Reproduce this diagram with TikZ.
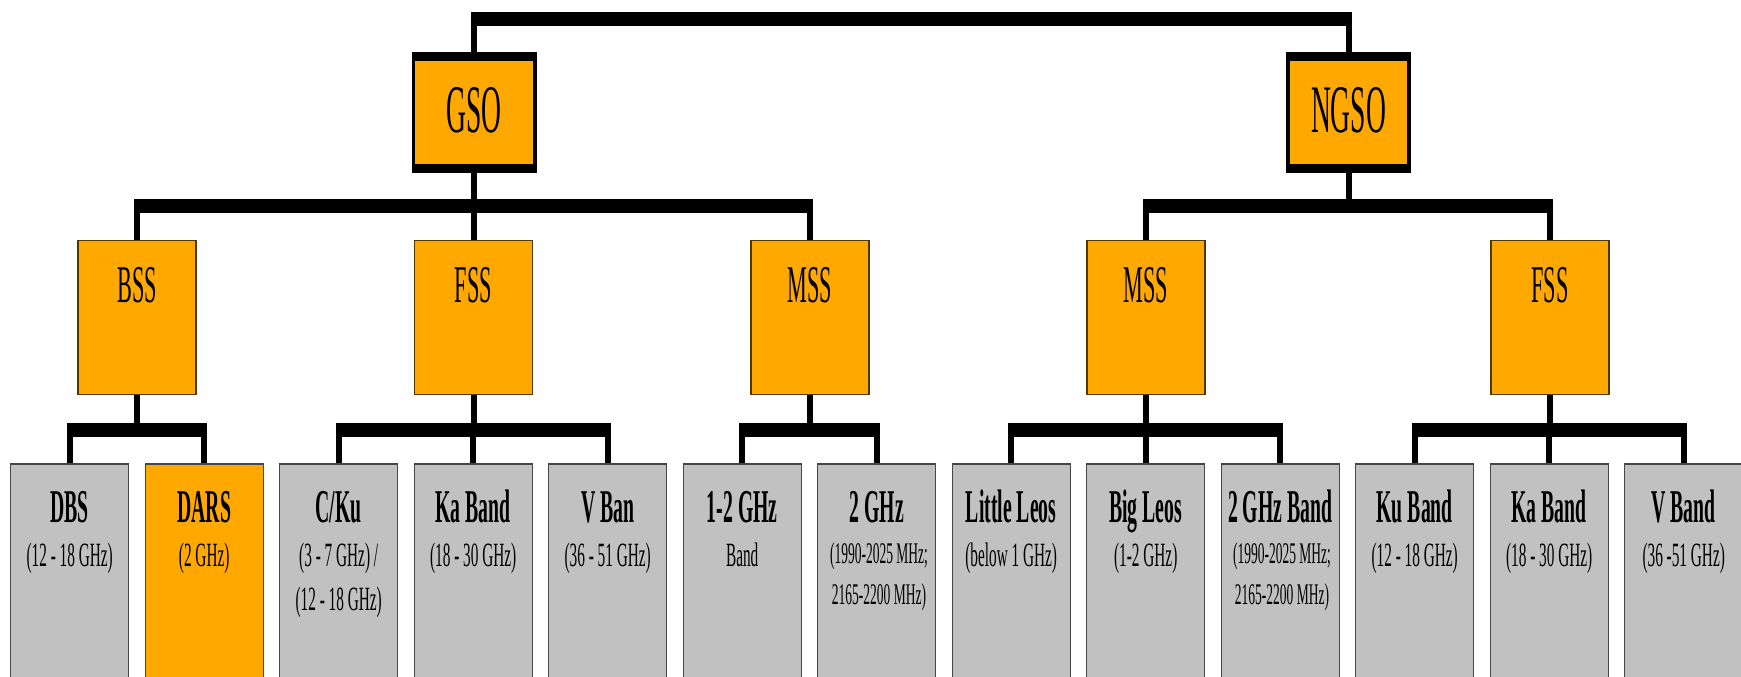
\documentclass[tikz,border=0pt]{standalone}
\usepackage{fontspec}
\setmainfont{Liberation Serif}[FakeStretch=0.42]
\newfontfamily\topfont{Liberation Serif}[FakeStretch=0.405]
\newfontfamily\subfont{Liberation Serif}[FakeStretch=0.45]
\definecolor{orng}{RGB}{255,168,0}
\definecolor{gry}{RGB}{192,193,192}
\definecolor{midedge}{RGB}{80,55,0}
\definecolor{botedge}{RGB}{70,70,70}
\begin{document}
\begin{tikzpicture}[x=1pt,y=-1pt,
  topbox/.style={rectangle, fill=black, inner sep=0pt, minimum width=125pt, minimum height=120.4pt,
    path picture={\fill[orng] ([xshift=3.6pt,yshift=8.8pt]path picture bounding box.south west) rectangle ([xshift=-3.6pt,yshift=-8.3pt]path picture bounding box.north east);}},
  toptext/.style={anchor=base, inner sep=0pt, font=\topfont\fontsize{68}{80}\selectfont},
  midbox/.style={rectangle, fill=orng, draw=midedge, line width=1.2pt, minimum width=118pt, minimum height=154.3pt, inner sep=0pt},
  midtext/.style={anchor=base, inner sep=0pt, font=\fontsize{53}{60}\selectfont},
  botbox/.style={rectangle, fill=gry, draw=botedge, line width=1.2pt, minimum width=118pt, minimum height=260pt, inner sep=0pt},
  bottitle/.style={anchor=base, inner sep=0pt, font=\bfseries\fontsize{47}{54}\selectfont},
  botsub/.style={anchor=base, inner sep=0pt, font=\subfont\fontsize{34}{40}\selectfont},
  botsmall/.style={anchor=base, inner sep=0pt, font=\subfont\fontsize{30}{36}\selectfont},
  wire/.style={line width=6pt, black},
  bus/.style={line width=14.5pt, black}]
\path[use as bounding box, clip] (0,0) rectangle (1741,677);
\fill[white] (0,0) rectangle (1741,677);

\coordinate (ty) at (0,19);
\coordinate (gy) at (0,205.8);
\coordinate (by) at (0,430);

% top level
\node[topbox] (GSO) at (474.2,112.5) {};
\node[toptext] (GSOt) at (474.2,132.5) {GSO};
\node[topbox] (NGSO) at (1348.5,112.5) {};
\node[toptext] (NGSOt) at (1348.5,132.5) {NGSO};

% middle level
\node[midbox] (bss) at (137,317.25) {};
\node[midtext] (bsst) at (137,302) {BSS};
\node[midbox] (gfss) at (473.5,317.25) {};
\node[midtext] (gfsst) at (473.5,302) {FSS};
\node[midbox] (gmss) at (810,317.25) {};
\node[midtext] (gmsst) at (810,302) {MSS};
\node[midbox] (nmss) at (1146,317.25) {};
\node[midtext] (nmsst) at (1146,302) {MSS};
\node[midbox] (nfss) at (1550,317.25) {};
\node[midtext] (nfsst) at (1550,302) {FSS};

% bottom level
\node[botbox] (dbs) at (69.7,593.9) {};
\node[botbox, fill=orng] (dars) at (204.2,593.9) {};
\node[botbox] (cku) at (338.7,593.9) {};
\node[botbox] (gka) at (473.2,593.9) {};
\node[botbox] (gv) at (607.7,593.9) {};
\node[botbox] (m12) at (742.2,593.9) {};
\node[botbox] (m2) at (876.7,593.9) {};
\node[botbox] (little) at (1011.2,593.9) {};
\node[botbox] (big) at (1145.7,593.9) {};
\node[botbox] (ngb) at (1280.2,593.9) {};
\node[botbox] (ku) at (1414.7,593.9) {};
\node[botbox] (nka) at (1549.2,593.9) {};
\node[botbox] (nv) at (1683.7,593.9) {};

% bottom texts
\node[bottitle] (dbst) at (69.7,522) {DBS};
\node[botsub] (dbss) at (69.7,566) {(12 - 18 GHz)};
\node[bottitle] (darst) at (204.2,522) {DARS};
\node[botsub] (darss) at (204.2,566) {(2 GHz)};
\node[bottitle] (ckut) at (338.7,522) {C/Ku};
\node[botsub] (ckus) at (338.7,566) {(3 - 7 GHz) /};
\node[botsub] (ckus2) at (338.7,610) {(12 - 18 GHz)};
\node[bottitle] (gkat) at (473.2,522) {Ka Band};
\node[botsub] (gkas) at (473.2,566) {(18 - 30 GHz)};
\node[bottitle] (gvt) at (607.7,522) {V Ban};
\node[botsub] (gvs) at (607.7,566) {(36 - 51 GHz)};
\node[bottitle] (m12t) at (742.2,522) {1-2 GHz};
\node[botsub] (m12s) at (742.2,566) {Band};
\node[bottitle] (m2t) at (876.7,522) {2 GHz};
\node[botsmall] (m2s) at (879,563) {(1990-2025 MHz;};
\node[botsmall] (m2s2) at (879,604) {2165-2200 MHz)};
\node[bottitle] (littlet) at (1011.2,522) {Little Leos};
\node[botsub] (littles) at (1011.2,566) {(below 1 GHz)};
\node[bottitle] (bigt) at (1145.7,522) {Big Leos};
\node[botsub] (bigs) at (1145.7,566) {(1-2 GHz)};
\node[bottitle] (ngbt) at (1280.2,522) {2 GHz Band};
\node[botsmall] (ngbs) at (1282,563) {(1990-2025 MHz;};
\node[botsmall] (ngbs2) at (1282,604) {2165-2200 MHz)};
\node[bottitle] (kut) at (1414.7,522) {Ku Band};
\node[botsub] (kus) at (1414.7,566) {(12 - 18 GHz)};
\node[bottitle] (nkat) at (1549.2,522) {Ka Band};
\node[botsub] (nkas) at (1549.2,566) {(18 - 30 GHz)};
\node[bottitle] (nvt) at (1683.7,522) {V Band};
\node[botsub] (nvs) at (1683.7,566) {(36 -51 GHz)};

% top connectors
\draw[wire] (GSO.north) -- (GSO.north |- ty);
\draw[wire] (NGSO.north) -- (NGSO.north |- ty);
\draw[bus] ([xshift=-3pt]GSO.north |- ty) -- ([xshift=3pt]NGSO.north |- ty);

% GSO -> services
\draw[wire] (GSO.south) -- (GSO.south |- gy);
\draw[wire] (bss.north) -- (bss.north |- gy);
\draw[wire] (gfss.north) -- (gfss.north |- gy);
\draw[wire] (gmss.north) -- (gmss.north |- gy);
\draw[bus] ([xshift=-3pt]bss.north |- gy) -- ([xshift=3pt]gmss.north |- gy);

% NGSO -> services
\draw[wire] (NGSO.south) -- (NGSO.south |- gy);
\draw[wire] (nmss.north) -- (nmss.north |- gy);
\draw[wire] (nfss.north) -- (nfss.north |- gy);
\draw[bus] ([xshift=-3pt]nmss.north |- gy) -- ([xshift=3pt]nfss.north |- gy);

% BSS
\draw[wire] (bss.south) -- (bss.south |- by);
\draw[wire] (dbs.north) -- (dbs.north |- by);
\draw[wire] (dars.north) -- (dars.north |- by);
\draw[bus] ([xshift=-3pt]dbs.north |- by) -- ([xshift=3pt]dars.north |- by);

% GSO FSS
\draw[wire] (gfss.south) -- (gfss.south |- by);
\draw[wire] (cku.north) -- (cku.north |- by);
\draw[wire] (gka.north) -- (gka.north |- by);
\draw[wire] (gv.north) -- (gv.north |- by);
\draw[bus] ([xshift=-3pt]cku.north |- by) -- ([xshift=3pt]gv.north |- by);

% GSO MSS
\draw[wire] (gmss.south) -- (gmss.south |- by);
\draw[wire] (m12.north) -- (m12.north |- by);
\draw[wire] (m2.north) -- (m2.north |- by);
\draw[bus] ([xshift=-3pt]m12.north |- by) -- ([xshift=3pt]m2.north |- by);

% NGSO MSS
\draw[wire] (nmss.south) -- (nmss.south |- by);
\draw[wire] (little.north) -- (little.north |- by);
\draw[wire] (big.north) -- (big.north |- by);
\draw[wire] (ngb.north) -- (ngb.north |- by);
\draw[bus] ([xshift=-3pt]little.north |- by) -- ([xshift=3pt]ngb.north |- by);

% NGSO FSS
\draw[wire] (nfss.south) -- (nfss.south |- by);
\draw[wire] (ku.north) -- (ku.north |- by);
\draw[wire] (nka.north) -- (nka.north |- by);
\draw[wire] (nv.north) -- (nv.north |- by);
\draw[bus] ([xshift=-3pt]ku.north |- by) -- ([xshift=3pt]nv.north |- by);
\end{tikzpicture}
\end{document}
